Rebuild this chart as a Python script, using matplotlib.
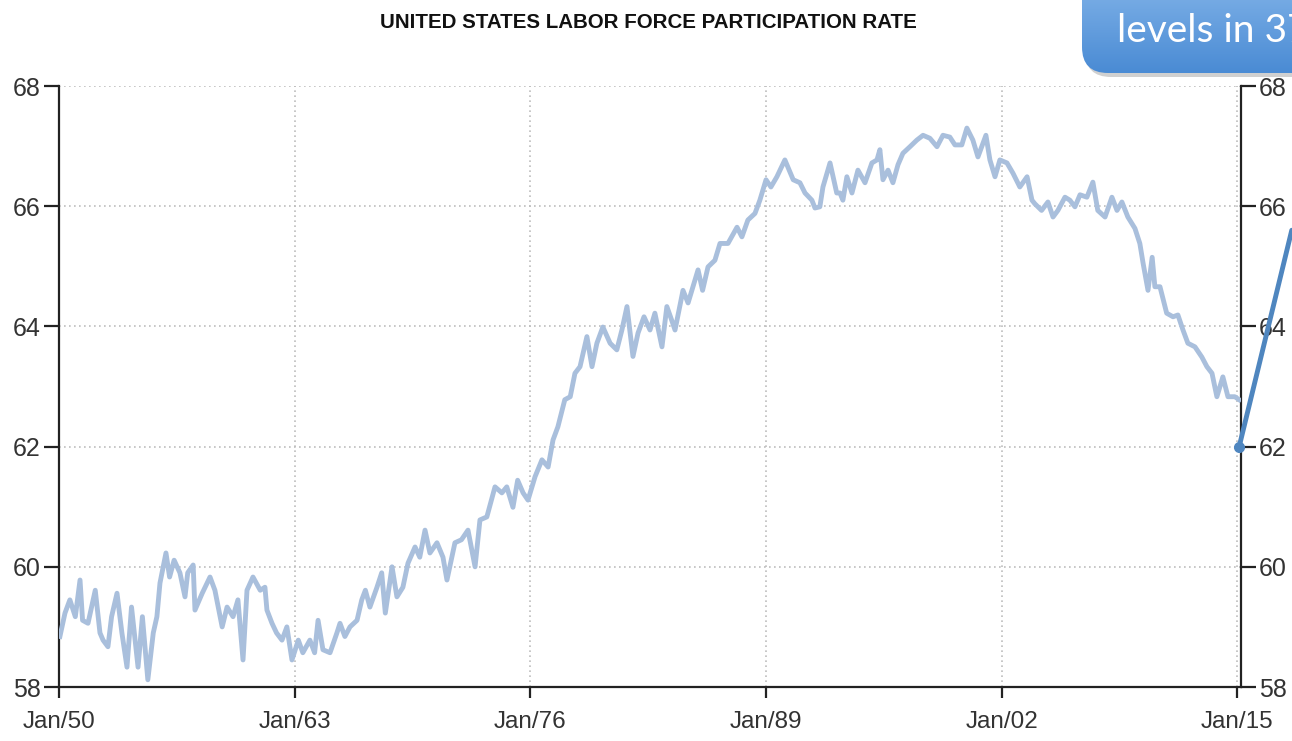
import numpy as np
import matplotlib
matplotlib.use("Agg")
import matplotlib.pyplot as plt
from matplotlib.patches import FancyBboxPatch
from matplotlib.colors import LinearSegmentedColormap

# ---- data ----
years = [
    1950.05, 1950.33, 1950.6, 1950.9, 1951.16, 1951.3, 1951.6, 1952.0, 1952.26, 1952.43,
    1952.7, 1952.9, 1953.2, 1953.47, 1953.75, 1954.0, 1954.36, 1954.6, 1954.9, 1955.2,
    1955.4, 1955.57, 1955.9, 1956.1, 1956.35, 1956.67, 1956.95, 1957.1, 1957.4, 1957.5,
    1957.9, 1958.33, 1958.6, 1959.0, 1959.27, 1959.6, 1959.87, 1960.15, 1960.37, 1960.7,
    1961.1, 1961.36, 1961.47, 1961.75, 1962.0, 1962.3, 1962.57, 1962.85, 1963.2, 1963.45,
    1963.84, 1964.1, 1964.29, 1964.56, 1964.95, 1965.33, 1965.5, 1965.77, 1966.05, 1966.44,
    1966.7, 1966.9, 1967.15, 1967.54, 1967.8, 1968.0, 1968.37, 1968.64, 1968.97, 1969.25,
    1969.64, 1969.9, 1970.19, 1970.46, 1970.85, 1971.18, 1971.4, 1971.84, 1972.2, 1972.56,
    1972.95, 1973.22, 1973.6, 1974.05, 1974.43, 1974.7, 1975.04, 1975.3, 1975.6, 1975.87,
    1976.26, 1976.64, 1976.98, 1977.25, 1977.52, 1977.9, 1978.2, 1978.46, 1978.74, 1979.12,
    1979.4, 1979.67, 1980.0, 1980.4, 1980.77, 1981.05, 1981.33, 1981.66, 1981.94, 1982.27,
    1982.6, 1982.87, 1983.26, 1983.53, 1983.8, 1983.98, 1984.42, 1984.7, 1985.25, 1985.5,
    1985.8, 1986.18, 1986.46, 1986.9, 1987.4, 1987.67, 1988.0, 1988.39, 1988.66, 1989.0,
    1989.27, 1989.6, 1990.04, 1990.5, 1990.87, 1991.15, 1991.53, 1991.7, 1991.97, 1992.14,
    1992.53, 1992.9, 1993.08, 1993.24, 1993.46, 1993.74, 1994.07, 1994.46, 1994.84, 1995.12,
    1995.28, 1995.45, 1995.73, 1996.0, 1996.28, 1996.55, 1996.94, 1997.32, 1997.66, 1998.04,
    1998.43, 1998.76, 1999.14, 1999.42, 1999.8, 2000.08, 2000.41, 2000.69, 2001.13, 2001.35,
    2001.63, 2001.9, 2002.29, 2002.62, 2003.0, 2003.4, 2003.67, 2003.83, 2004.2, 2004.55,
    2004.83, 2005.1, 2005.49, 2005.76, 2006.04, 2006.32, 2006.7, 2007.03, 2007.3, 2007.7,
    2008.08, 2008.36, 2008.63, 2008.96, 2009.35, 2009.62, 2009.8, 2010.07, 2010.3, 2010.45,
    2010.73, 2011.1, 2011.45, 2011.72, 2012.0, 2012.27, 2012.66, 2013.04, 2013.32, 2013.6,
    2013.87, 2014.2, 2014.48, 2014.86, 2015.1]
rate = [
    58.84, 59.23, 59.45, 59.17, 59.78, 59.11, 59.06, 59.61, 58.9, 58.78,
    58.67, 59.17, 59.56, 58.9, 58.33, 59.33, 58.33, 59.17, 58.12, 58.9,
    59.17, 59.73, 60.23, 59.83, 60.11, 59.9, 59.5, 59.9, 60.03, 59.28,
    59.56, 59.83, 59.61, 59.0, 59.33, 59.17, 59.45, 58.45, 59.61, 59.83,
    59.61, 59.66, 59.28, 59.06, 58.9, 58.78, 59.0, 58.45, 58.78, 58.57,
    58.78, 58.57, 59.11, 58.62, 58.57, 58.9, 59.06, 58.84, 59.0, 59.11,
    59.45, 59.61, 59.33, 59.66, 59.9, 59.23, 60.0, 59.5, 59.66, 60.06,
    60.33, 60.16, 60.61, 60.23, 60.4, 60.16, 59.78, 60.4, 60.45, 60.61,
    60.0, 60.78, 60.83, 61.33, 61.23, 61.33, 60.99, 61.44, 61.23, 61.11,
    61.5, 61.78, 61.66, 62.11, 62.33, 62.78, 62.83, 63.22, 63.33, 63.83,
    63.33, 63.72, 63.99, 63.72, 63.61, 63.94, 64.33, 63.5, 63.89, 64.16,
    63.94, 64.22, 63.66, 64.33, 64.1, 63.94, 64.6, 64.39, 64.94, 64.6,
    64.99, 65.1, 65.38, 65.38, 65.65, 65.49, 65.77, 65.88, 66.1, 66.44,
    66.32, 66.49, 66.77, 66.44, 66.39, 66.22, 66.1, 65.97, 65.99, 66.32,
    66.72, 66.22, 66.22, 66.1, 66.49, 66.22, 66.6, 66.39, 66.72, 66.77,
    66.94, 66.44, 66.6, 66.39, 66.69, 66.88, 66.99, 67.1, 67.18, 67.13,
    66.99, 67.18, 67.15, 67.02, 67.02, 67.3, 67.1, 66.82, 67.18, 66.77,
    66.49, 66.77, 66.72, 66.55, 66.32, 66.49, 66.1, 66.04, 65.93, 66.07,
    65.82, 65.93, 66.15, 66.1, 65.99, 66.19, 66.15, 66.4, 65.93, 65.82,
    66.15, 65.93, 66.07, 65.82, 65.63, 65.38, 65.05, 64.6, 65.15, 64.66,
    64.66, 64.22, 64.16, 64.19, 63.94, 63.72, 63.66, 63.49, 63.33, 63.22,
    62.83, 63.16, 62.83, 62.83, 62.78]

tick_years = [1950, 1963, 1976, 1989, 2002, 2015]
tick_labels = ["Jan/50", "Jan/63", "Jan/76", "Jan/89", "Jan/02", "Jan/15"]
y_ticks = [58, 60, 62, 64, 66, 68]

arrow_x = [2015.1, 2018.0]
arrow_y = [62.0, 65.6]

title = "UNITED STATES LABOR FORCE PARTICIPATION RATE"
callout = "levels in 37"

W, H = 1292, 741
fig = plt.figure(figsize=(W / 100, H / 100), dpi=100)
fig.patch.set_facecolor("white")

narrow = ["Liberation Sans", "DejaVu Sans"]

ax = fig.add_axes([59 / W, (H - 687) / H, (1241 - 59) / W, (687 - 86) / H])
ax.plot(years, rate, color="#a9bfdc", lw=3.5, solid_joinstyle="round", zorder=3)
ax.set_xlim(1950, 2015.2)
ax.set_ylim(58, 68)
ax.set_xticks(tick_years)
ax.set_xticklabels(tick_labels)
ax.set_yticks(y_ticks)
ax.grid(True, color="#bdbdbd", linestyle=(0, (1, 2)), lw=1.2)
ax.spines["top"].set_visible(False)
for s in ["left", "bottom", "right"]:
    ax.spines[s].set_color("#222222")
    ax.spines[s].set_linewidth(1.6)
ax.tick_params(axis="y", which="both", left=True, right=True, labelleft=True,
               labelright=True, length=11, width=1.6, color="#222222", pad=2,
               labelsize=18, labelcolor="#333333")
ax.tick_params(axis="x", length=8, width=1.6, color="#222222", pad=9,
               labelsize=17.5, labelcolor="#333333")
for lab in ax.get_xticklabels():
    lab.set_family(narrow)
for t in ax.yaxis.get_major_ticks():
    t.label1.set_family(narrow)
    t.label2.set_family(narrow)

# blue arrow line going out of the axes
ax.plot(arrow_x, arrow_y, color="#4f86bf", lw=3.5, clip_on=False, zorder=5,
        solid_capstyle="round")
ax.plot(arrow_x[:1], arrow_y[:1], "o", color="#4f86bf", ms=7, clip_on=False, zorder=6)

fig.text(648 / W, 1 - 23 / H, title, ha="center", va="center", fontsize=14.8,
         family=narrow, color="#111111", fontweight="bold")

# callout box with gradient
bx0 = 1082
bw, bh = 260, 73
shadow = fig.add_axes([(bx0 + 3) / W, (H - bh - 4) / H, bw / W, (bh + 10) / H])
shadow.set_axis_off()
shadow.set_xlim(0, 1); shadow.set_ylim(0, 1)
sp = FancyBboxPatch((0, 0), 1, 1.3, boxstyle="round,pad=0,rounding_size=0.1",
                    transform=shadow.transAxes, fc="#d0d0d0", ec="none",
                    mutation_aspect=bw / (bh + 10))
shadow.add_patch(sp)

cax = fig.add_axes([bx0 / W, (H - bh) / H, bw / W, (bh + 10) / H])
cax.set_axis_off()
grad = np.linspace(0, 1, 100).reshape(-1, 1)
cmap = LinearSegmentedColormap.from_list("g", ["#4a8bd4", "#7aaee6"])
im = cax.imshow(grad, aspect="auto", cmap=cmap, extent=[0, 1, 0, 1], origin="lower")
cax.set_xlim(0, 1); cax.set_ylim(0, 1)
clip = FancyBboxPatch((0, 0), 1, 1.3, boxstyle="round,pad=0,rounding_size=0.1",
                      transform=cax.transAxes, fc="none", ec="none",
                      mutation_aspect=bw / (bh + 10))
cax.add_patch(clip)
im.set_clip_path(clip)
fig.text(1117 / W, 1 - 31 / H, callout, ha="left", va="center", fontsize=28,
         family=["Lato", "DejaVu Sans"], color="white")

fig.savefig("out.png", dpi=100)
